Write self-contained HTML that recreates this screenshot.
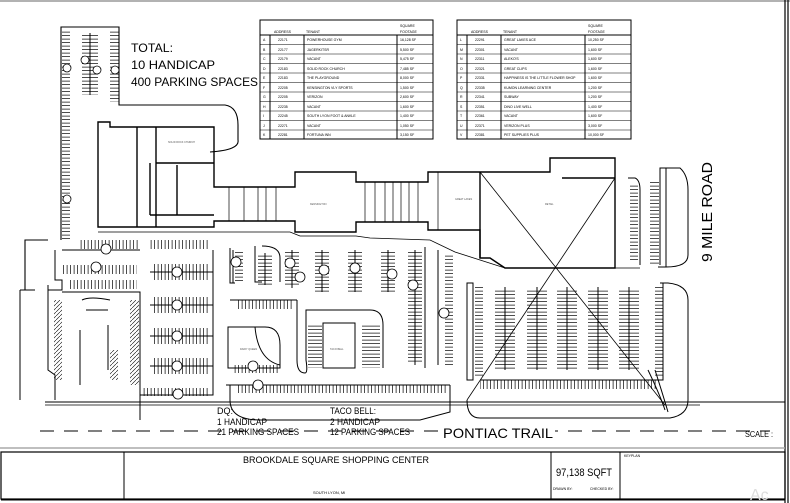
<!DOCTYPE html>
<html><head><meta charset="utf-8"><style>
html,body{margin:0;padding:0;background:#fff;}
svg{display:block;font-family:"Liberation Sans",sans-serif;}
</style></head><body>
<svg width="790" height="503" viewBox="0 0 790 503" xmlns="http://www.w3.org/2000/svg">
<defs>
<pattern id="v" width="3.5" height="10" patternUnits="userSpaceOnUse"><line x1="0.6" y1="0" x2="0.6" y2="10" stroke="#000" stroke-width="0.7"/></pattern>
<pattern id="h" width="10" height="3.5" patternUnits="userSpaceOnUse"><line x1="0" y1="0.6" x2="10" y2="0.6" stroke="#000" stroke-width="0.7"/></pattern>
<pattern id="d" width="4" height="4" patternUnits="userSpaceOnUse"><line x1="0" y1="4" x2="4" y2="0" stroke="#000" stroke-width="0.6"/></pattern>
</defs>
<rect width="790" height="503" fill="#fff"/>
<line x1="0" y1="1" x2="790" y2="1" stroke="#999" stroke-width="1.5"/>
<line x1="785" y1="0" x2="785" y2="503" stroke="#000" stroke-width="1.2"/>
<line x1="788" y1="0" x2="788" y2="503" stroke="#000" stroke-width="1.2"/>

<text x="131" y="52" font-size="12" textLength="42" lengthAdjust="spacingAndGlyphs">TOTAL:</text>
<text x="131" y="69" font-size="12" textLength="84" lengthAdjust="spacingAndGlyphs">10 HANDICAP</text>
<text x="131" y="86" font-size="12" textLength="127" lengthAdjust="spacingAndGlyphs">400 PARKING SPACES</text>

<g fill="none" stroke="#000" stroke-width="1.1">
<path d="M61 240 V27 H119 V105 H225 Q238 107 238 125 V140 Q240 150 210 152"/>
<path d="M48 240 H25 V290"/>
</g>
<rect x="62" y="30" width="8" height="210" fill="url(#h)"/>
<rect x="82" y="33" width="16" height="62" fill="url(#h)"/>
<line x1="90" y1="33" x2="90" y2="95" stroke="#000"/>
<rect x="110" y="30" width="9" height="72" fill="url(#h)"/>
<g fill="#fff" stroke="#000" stroke-width="0.8">
<circle cx="67" cy="68" r="4"/><circle cx="85" cy="60" r="4"/><circle cx="97" cy="70" r="4"/><circle cx="115" cy="70" r="4"/><circle cx="67" cy="199" r="4"/>
</g>

<g fill="none" stroke="#000" stroke-width="1.4">
<path d="M98 122 H110 V127 H214 V187 H295 V172 H356 V182 H428 V172 H550 V158 H562 V158 H615 V268 H505 L490 258 L480 258 V230 H428 V222 H356 V232 H295 V221 H214 L214 227 H98 Z"/>
<line x1="137" y1="127" x2="137" y2="227"/>
<line x1="156" y1="127" x2="156" y2="227"/>
<line x1="156" y1="163" x2="214" y2="163"/>
<line x1="177" y1="165" x2="177" y2="215"/>
<line x1="150" y1="215" x2="214" y2="215"/>
<line x1="150" y1="163" x2="150" y2="215"/>
<line x1="480" y1="172" x2="480" y2="258"/>
<line x1="562" y1="178" x2="615" y2="178"/>
</g>
<g stroke="#000" stroke-width="0.7">
<line x1="229" y1="187" x2="229" y2="221"/><line x1="244" y1="187" x2="244" y2="221"/><line x1="258" y1="187" x2="258" y2="221"/><line x1="266" y1="187" x2="266" y2="221"/><line x1="276" y1="187" x2="276" y2="221"/>
<line x1="365" y1="182" x2="365" y2="222"/><line x1="375" y1="182" x2="375" y2="222"/><line x1="385" y1="182" x2="385" y2="222"/><line x1="393" y1="182" x2="393" y2="222"/><line x1="401" y1="182" x2="401" y2="222"/><line x1="409" y1="182" x2="409" y2="222"/><line x1="418" y1="182" x2="418" y2="222"/>
<line x1="438" y1="172" x2="438" y2="230"/>
</g>
<g font-size="2.5" fill="#555"><text x="168" y="143">SOLID ROCK CHURCH</text><text x="310" y="205">KENSINGTON</text><text x="455" y="200">GREAT LAKES</text><text x="545" y="205">RETAIL</text></g>
<path d="M98 232 H290 L300 236 H356 L370 238 L430 240 L455 252 L505 268 H640" fill="none" stroke="#000" stroke-width="0.8"/>

<line x1="480" y1="172" x2="665" y2="405" stroke="#000" stroke-width="0.8"/>
<line x1="615" y1="178" x2="467" y2="400" stroke="#000" stroke-width="0.8"/>

<g fill="none" stroke="#000" stroke-width="1">
<path d="M628 178 H635 Q640 180 640 190 V265"/>
<path d="M666 168 V267 H658 M666 168 H660 V265"/>
<path d="M666 168 H680 Q688 175 688 190 V255 Q688 267 666 267"/>
<path d="M467 283 H473 V380 H467 Z"/>
<path d="M660 283 H668 Q688 285 688 300 V400 Q688 415 670 418 H480 Q467 418 467 400"/>
<path d="M663 283 V380 H480"/>
<path d="M648 370 Q660 395 665 410 M655 370 Q663 395 668 412"/>
</g>
<rect x="630" y="185" width="8" height="75" fill="url(#h)"/>
<rect x="650" y="180" width="9" height="85" fill="url(#h)"/>
<rect x="475" y="285" width="8" height="92" fill="url(#h)"/>
<rect x="655" y="285" width="8" height="92" fill="url(#h)"/>
<g stroke="#000" stroke-width="1" fill="none">
<line x1="505" y1="287" x2="505" y2="370"/><line x1="537" y1="287" x2="537" y2="370"/><line x1="567" y1="287" x2="567" y2="370"/><line x1="598" y1="287" x2="598" y2="370"/><line x1="629" y1="287" x2="629" y2="370"/>
</g>
<rect x="495" y="289" width="20" height="80" fill="url(#h)"/>
<rect x="527" y="289" width="20" height="80" fill="url(#h)"/>
<rect x="557" y="289" width="20" height="80" fill="url(#h)"/>
<rect x="588" y="289" width="20" height="80" fill="url(#h)"/>
<rect x="619" y="289" width="20" height="80" fill="url(#h)"/>
<rect x="480" y="380" width="178" height="9" fill="url(#v)"/>

<g fill="none" stroke="#000" stroke-width="1">
<path d="M55 250 V280 H62 V290 H48 V370 L55 375 V400 M62 250 H140 M62 292 H140 V420 M35 290 H20 M20 290 V400"/>
<path d="M48 285 V370"/>
<path d="M82 300 Q90 296 110 300 M86 310 H108 M80 330 V385 M108 325 V370"/>
<path d="M140 300 V395 H213 V385 M213 250 V395"/>
<path d="M230 385 V400 Q230 420 260 420 H420 L450 412 V385"/>
<path d="M226 385 H450"/>
<path d="M228 327 H265 Q280 327 280 345 V368 H228 Z"/>
<path d="M255 327 Q258 360 280 365"/>
<path d="M323 323 H355 V368 H323 Z"/>
<path d="M297 300 V360 Q297 373 305 373 Q308 373 306 360 V310 H370 Q383 310 383 325 V368"/>
<path d="M230 300 H297"/>
<path d="M230 248 V283 H235 M425 247 V368"/>
<path d="M262 246 Q280 246 280 258 V282 M255 246 V282 H262"/>
</g>
<rect x="80" y="240" width="58" height="9" fill="url(#v)"/>
<rect x="62" y="265" width="75" height="9" fill="url(#v)"/>
<rect x="70" y="280" width="67" height="9" fill="url(#v)"/>
<rect x="150" y="240" width="60" height="9" fill="url(#v)"/>
<rect x="54" y="300" width="8" height="80" fill="url(#d)"/>
<rect x="130" y="300" width="9" height="85" fill="url(#d)"/>
<rect x="110" y="350" width="8" height="30" fill="url(#d)"/>
<g stroke="#000" stroke-width="1">
<line x1="150" y1="272" x2="213" y2="272"/><line x1="150" y1="305" x2="213" y2="305"/><line x1="150" y1="336" x2="213" y2="336"/><line x1="150" y1="366" x2="213" y2="366"/>
</g>
<rect x="152" y="264" width="58" height="16" fill="url(#v)"/>
<rect x="152" y="297" width="58" height="16" fill="url(#v)"/>
<rect x="152" y="328" width="58" height="16" fill="url(#v)"/>
<rect x="152" y="358" width="58" height="16" fill="url(#v)"/>
<rect x="142" y="388" width="68" height="8" fill="url(#v)"/>
<rect x="236" y="300" width="58" height="9" fill="url(#v)"/>
<rect x="236" y="385" width="210" height="8" fill="url(#v)"/>
<rect x="308" y="323" width="14" height="45" fill="url(#h)"/>
<rect x="362" y="323" width="18" height="45" fill="url(#h)"/>
<rect x="233" y="365" width="45" height="8" fill="url(#v)"/>
<g stroke="#000" stroke-width="1">
<line x1="233" y1="250" x2="233" y2="283"/><line x1="265" y1="253" x2="265" y2="285"/><line x1="292" y1="250" x2="292" y2="288"/><line x1="322" y1="250" x2="322" y2="292"/><line x1="355" y1="250" x2="355" y2="292"/><line x1="388" y1="250" x2="388" y2="292"/><line x1="415" y1="250" x2="415" y2="365"/>
</g>
<rect x="235" y="252" width="8" height="30" fill="url(#h)"/>
<rect x="258" y="255" width="14" height="30" fill="url(#h)"/>
<rect x="285" y="252" width="14" height="35" fill="url(#h)"/>
<rect x="315" y="252" width="14" height="40" fill="url(#h)"/>
<rect x="348" y="252" width="14" height="40" fill="url(#h)"/>
<rect x="381" y="252" width="14" height="40" fill="url(#h)"/>
<rect x="408" y="252" width="14" height="112" fill="url(#h)"/>
<rect x="445" y="255" width="8" height="112" fill="url(#h)"/>
<path d="M438 250 V365" stroke="#000" fill="none"/>
<g fill="#fff" stroke="#000" stroke-width="0.8">
<circle cx="106" cy="249" r="5"/><circle cx="96" cy="267" r="5"/><circle cx="177" cy="272" r="5"/><circle cx="177" cy="305" r="5"/><circle cx="177" cy="336" r="5"/><circle cx="177" cy="366" r="5"/><circle cx="178" cy="394" r="5"/>
<circle cx="236" cy="262" r="5"/><circle cx="290" cy="263" r="5"/><circle cx="300" cy="277" r="5"/><circle cx="324" cy="270" r="5"/><circle cx="355" cy="268" r="5"/><circle cx="392" cy="274" r="5"/><circle cx="253" cy="366" r="5"/><circle cx="258" cy="385" r="5"/><circle cx="413" cy="285" r="5"/><circle cx="444" cy="313" r="5"/>
</g>
<g font-size="2.5" fill="#555"><text x="330" y="350">TACO BELL</text><text x="240" y="350">DAIRY QUEEN</text></g>

<line x1="45" y1="402" x2="785" y2="402" stroke="#000" stroke-width="1"/>
<line x1="45" y1="405" x2="700" y2="405" stroke="#000" stroke-width="0.8"/>
<line x1="40" y1="431" x2="770" y2="431" stroke="#000" stroke-width="1" stroke-dasharray="14,10"/>
<g font-size="9">
<text x="217" y="414" textLength="16" lengthAdjust="spacingAndGlyphs">DQ:</text>
<text x="217" y="425" textLength="50" lengthAdjust="spacingAndGlyphs">1 HANDICAP</text>
<text x="217" y="435" textLength="82" lengthAdjust="spacingAndGlyphs">21 PARKING SPACES</text>
<text x="330" y="414" textLength="46" lengthAdjust="spacingAndGlyphs">TACO BELL:</text>
<text x="330" y="425" textLength="50" lengthAdjust="spacingAndGlyphs">2 HANDICAP</text>
<text x="330" y="435" textLength="80" lengthAdjust="spacingAndGlyphs">12 PARKING SPACES</text>
</g>
<rect x="440" y="424" width="115" height="15" fill="#fff"/>
<text x="443" y="438" font-size="14" textLength="110" lengthAdjust="spacingAndGlyphs">PONTIAC TRAIL</text>
<text x="745" y="437" font-size="8" textLength="28" lengthAdjust="spacingAndGlyphs">SCALE :</text>
<text transform="translate(712,262) rotate(-90)" font-size="15" textLength="100" lengthAdjust="spacingAndGlyphs">9 MILE ROAD</text>

<g font-size="3.5" fill="#000">
<rect x="260" y="20" width="173" height="119" fill="#fff" stroke="#000" stroke-width="1"/>
<line x1="260" y1="35" x2="433" y2="35" stroke="#000"/>
<line x1="270" y1="35" x2="270" y2="139" stroke="#000"/><line x1="304" y1="35" x2="304" y2="139" stroke="#000"/><line x1="397" y1="35" x2="397" y2="139" stroke="#000"/>
<text x="274" y="33">ADDRESS</text><text x="306" y="33">TENANT</text><text x="400" y="27">SQUARE</text><text x="400" y="33">FOOTAGE</text>
<rect x="457" y="20" width="174" height="119" fill="#fff" stroke="#000" stroke-width="1"/>
<line x1="457" y1="35" x2="631" y2="35" stroke="#000"/>
<line x1="467" y1="35" x2="467" y2="139" stroke="#000"/><line x1="501" y1="35" x2="501" y2="139" stroke="#000"/><line x1="585" y1="35" x2="585" y2="139" stroke="#000"/>
<text x="471" y="33">ADDRESS</text><text x="503" y="33">TENANT</text><text x="588" y="27">SQUARE</text><text x="588" y="33">FOOTAGE</text>
<g stroke="#000" stroke-width="0.5">
<line x1="260" y1="44.5" x2="433" y2="44.5"/><line x1="260" y1="54" x2="433" y2="54"/><line x1="260" y1="63.5" x2="433" y2="63.5"/><line x1="260" y1="73" x2="433" y2="73"/><line x1="260" y1="82.5" x2="433" y2="82.5"/><line x1="260" y1="92" x2="433" y2="92"/><line x1="260" y1="101.5" x2="433" y2="101.5"/><line x1="260" y1="111" x2="433" y2="111"/><line x1="260" y1="120.5" x2="433" y2="120.5"/><line x1="260" y1="130" x2="433" y2="130"/>
<line x1="457" y1="44.5" x2="631" y2="44.5"/><line x1="457" y1="54" x2="631" y2="54"/><line x1="457" y1="63.5" x2="631" y2="63.5"/><line x1="457" y1="73" x2="631" y2="73"/><line x1="457" y1="82.5" x2="631" y2="82.5"/><line x1="457" y1="92" x2="631" y2="92"/><line x1="457" y1="101.5" x2="631" y2="101.5"/><line x1="457" y1="111" x2="631" y2="111"/><line x1="457" y1="120.5" x2="631" y2="120.5"/><line x1="457" y1="130" x2="631" y2="130"/>
</g>
<text x="263" y="41">A</text><text x="278" y="41">22171</text><text x="307" y="41">POWERHOUSE GYM</text><text x="400" y="41">16,128 SF</text>
<text x="263" y="51">B</text><text x="278" y="51">22177</text><text x="307" y="51">JAGERKITSR</text><text x="400" y="51">5,500 SF</text>
<text x="263" y="60">C</text><text x="278" y="60">22179</text><text x="307" y="60">VACANT</text><text x="400" y="60">5,475 SF</text>
<text x="263" y="70">D</text><text x="278" y="70">22183</text><text x="307" y="70">SOLID ROCK CHURCH</text><text x="400" y="70">7,485 SF</text>
<text x="263" y="79">E</text><text x="278" y="79">22183</text><text x="307" y="79">THE PLAYGROUND</text><text x="400" y="79">8,000 SF</text>
<text x="263" y="89">F</text><text x="278" y="89">22205</text><text x="307" y="89">KENSINGTON VLY SPORTS</text><text x="400" y="89">1,500 SF</text>
<text x="263" y="98">G</text><text x="278" y="98">22205</text><text x="307" y="98">VERIZON</text><text x="400" y="98">2,600 SF</text>
<text x="263" y="108">H</text><text x="278" y="108">22235</text><text x="307" y="108">VACANT</text><text x="400" y="108">1,600 SF</text>
<text x="263" y="117">I</text><text x="278" y="117">22245</text><text x="307" y="117">SOUTH LYON FOOT &amp; ANKLE</text><text x="400" y="117">1,400 SF</text>
<text x="263" y="127">J</text><text x="278" y="127">22271</text><text x="307" y="127">VACANT</text><text x="400" y="127">1,050 SF</text>
<text x="263" y="136">K</text><text x="278" y="136">22281</text><text x="307" y="136">FORTUNA INN</text><text x="400" y="136">3,150 SF</text>
<text x="460" y="41">L</text><text x="475" y="41">22291</text><text x="504" y="41">GREAT LAKES ACE</text><text x="588" y="41">10,250 SF</text>
<text x="460" y="51">M</text><text x="475" y="51">22301</text><text x="504" y="51">VACANT</text><text x="588" y="51">1,600 SF</text>
<text x="460" y="60">N</text><text x="475" y="60">22311</text><text x="504" y="60">ALEKO'S</text><text x="588" y="60">1,600 SF</text>
<text x="460" y="70">O</text><text x="475" y="70">22321</text><text x="504" y="70">GREAT CLIPS</text><text x="588" y="70">1,600 SF</text>
<text x="460" y="79">P</text><text x="475" y="79">22331</text><text x="504" y="79">HAPPINESS IS THE LITTLE FLOWER SHOP</text><text x="588" y="79">1,600 SF</text>
<text x="460" y="89">Q</text><text x="475" y="89">22335</text><text x="504" y="89">KUMON LEARNING CENTER</text><text x="588" y="89">1,200 SF</text>
<text x="460" y="98">R</text><text x="475" y="98">22341</text><text x="504" y="98">SUBWAY</text><text x="588" y="98">1,200 SF</text>
<text x="460" y="108">S</text><text x="475" y="108">22351</text><text x="504" y="108">DINO LIVE WELL</text><text x="588" y="108">1,400 SF</text>
<text x="460" y="117">T</text><text x="475" y="117">22361</text><text x="504" y="117">VACANT</text><text x="588" y="117">1,600 SF</text>
<text x="460" y="127">U</text><text x="475" y="127">22371</text><text x="504" y="127">VERIZON PLUS</text><text x="588" y="127">3,000 SF</text>
<text x="460" y="136">V</text><text x="475" y="136">22381</text><text x="504" y="136">PET SUPPLIES PLUS</text><text x="588" y="136">10,000 SF</text>
</g>

<line x1="0" y1="448" x2="785" y2="448" stroke="#aaa" stroke-width="1.5"/>
<rect x="1" y="452" width="784" height="47" fill="none" stroke="#000" stroke-width="1.2"/>
<line x1="1" y1="500" x2="785" y2="500" stroke="#000" stroke-width="1"/>
<line x1="124" y1="452" x2="124" y2="499" stroke="#000"/>
<line x1="551" y1="452" x2="551" y2="499" stroke="#000"/>
<line x1="620" y1="452" x2="620" y2="499" stroke="#000"/>
<text x="243" y="463" font-size="9" textLength="186" lengthAdjust="spacingAndGlyphs">BROOKDALE SQUARE SHOPPING CENTER</text>
<text x="556" y="476" font-size="11" textLength="56" lengthAdjust="spacingAndGlyphs">97,138 SQFT</text>
<text x="553" y="490" font-size="3.5">DRAWN BY:</text><text x="590" y="490" font-size="3.5">CHECKED BY:</text>
<text x="624" y="457" font-size="3.5">KEYPLAN</text>
<text x="313" y="494" font-size="4">SOUTH LYON, MI</text>
<text x="750" y="500" font-size="16" fill="#ddd">Ac</text>
</svg>
</body></html>
